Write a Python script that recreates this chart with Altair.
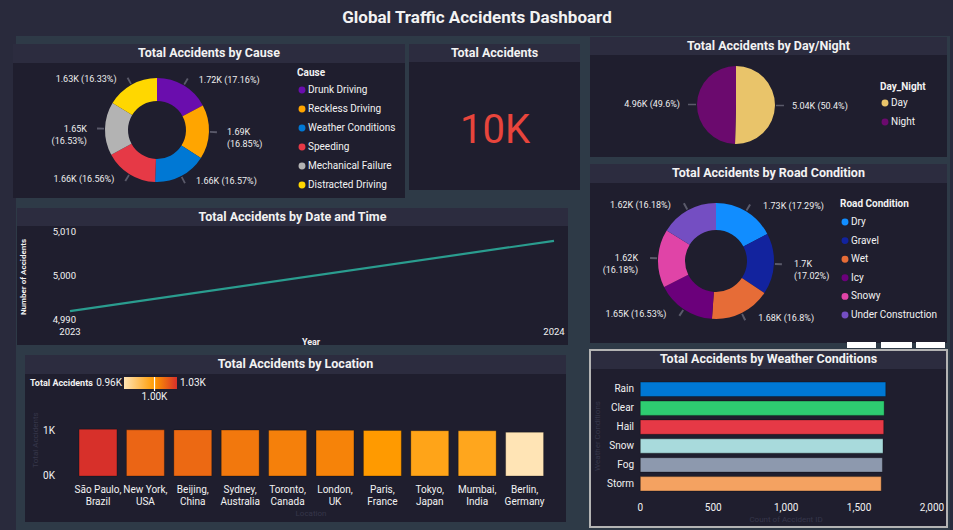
import math
import pandas as pd
import altair as alt

# ---------------- data ----------------
CAUSES = ["Drunk Driving", "Reckless Driving", "Weather Conditions",
          "Speeding", "Mechanical Failure", "Distracted Driving"]
CAUSE_COUNTS = [1716, 1685, 1657, 1656, 1653, 1633]
CAUSE_COLORS = ["#6A0DAD", "#FFA500", "#0078D4", "#E63946", "#B3B3B3", "#FFD700"]

DAY_NIGHT = ["Day", "Night"]
DAY_NIGHT_COUNTS = [5040, 4960]
DAY_NIGHT_COLORS = ["#E9C46A", "#6B0A6E"]

ROADS = ["Dry", "Gravel", "Wet", "Icy", "Snowy", "Under Construction"]
ROAD_COUNTS = [1729, 1702, 1680, 1653, 1618, 1618]
ROAD_COLORS = ["#118DFF", "#12239E", "#E66C37", "#6B007B", "#E044A7", "#744EC2"]

YEARS = [2023, 2024]
YEAR_COUNTS = [4992, 5008]
YEAR_TICKS = [4990, 5000, 5010]

LOCATIONS = ["São Paulo, Brazil", "New York, USA", "Beijing, China", "Sydney, Australia",
             "Toronto, Canada", "London, UK", "Paris, France", "Tokyo, Japan",
             "Mumbai, India", "Berlin, Germany"]
LOCATION_COUNTS = [1028, 1014, 1013, 1009, 1007, 1006, 1000, 995, 994, 962]
LOCATION_MID = 1000
LOCATION_TICKS = [0, 1000]
LOCATION_RAMP = ["#FFE4B5", "#FF9A00", "#D7302A"]

WEATHER = ["Rain", "Clear", "Hail", "Snow", "Fog", "Storm"]
WEATHER_COUNTS = [1683, 1672, 1669, 1664, 1660, 1652]
WEATHER_COLORS = ["#0078D4", "#2ECC71", "#E63946", "#A8DADC", "#8D99AE", "#F4A261"]
WEATHER_TICKS = [0, 500, 1000, 1500, 2000]

# ---------------- style ----------------
PAGE_BG = "#292A3C"
SLATE = "#2E3A47"
PANEL_BODY = "#1F1E2E"
PANEL_HEAD = "#2C2C3F"
TEXT = "#F2F2F2"
FAINT = "#36364A"
NARROW = "Liberation Sans Narrow, Arial Narrow, Roboto, sans-serif"
BODY = "Roboto, sans-serif"

ONE = pd.DataFrame({"_": [0]})


def short_k(v):
    return f"{v / 1000:.2f}".rstrip("0").rstrip(".") + "K"


def pct(v, total):
    return f"{v / total * 100:.2f}".rstrip("0").rstrip(".") + "%"


def box(x0, y0, x1, y1, color, **kw):
    return alt.Chart(ONE).mark_rect(color=color, **kw).encode(
        x=alt.value(x0), x2=alt.value(x1), y=alt.value(y0), y2=alt.value(y1))


def note(text, x, y, size=10, weight="normal", color=TEXT, align="center",
         font=BODY, angle=0, opacity=1.0, baseline="middle"):
    return alt.Chart(ONE).mark_text(
        text=text, fontSize=size, fontWeight=weight, color=color, align=align,
        baseline=baseline, font=font, angle=angle, opacity=opacity
    ).encode(x=alt.value(x), y=alt.value(y))


def panel(x0, y0, x1, y1, head_h, title, title_y, **kw):
    inset = 1 if kw else 0
    return [
        box(x0, y0, x1, y1, PANEL_BODY, **kw),
        box(x0 + inset, y0 + inset, x1 - inset, y0 + head_h, PANEL_HEAD),
        note(title, (x0 + x1) / 2, title_y, size=12.5, weight="bold", font=NARROW),
    ]


def pie_frame(cats, counts, wrap):
    total = sum(counts)
    rows, cum = [], 0
    for i, (c, v) in enumerate(zip(cats, counts)):
        mid = (cum + v / 2) / total
        cum += v
        sep = "\n" if wrap and abs(math.sin(2 * math.pi * mid)) > 0.95 else " "
        rows.append({"idx": i, "cat": c, "count": v, "mid": mid,
                     "lo": mid - 0.0025, "hi": mid + 0.0025,
                     "side": "R" if mid < 0.5 else "L",
                     "label": f"{short_k(v)}{sep}({pct(v, total)})"})
    return pd.DataFrame(rows)


def donut(cats, counts, colors, cx, cy, r_in, r_out, r_lab, gap, wrap, size=9):
    df = pie_frame(cats, counts, wrap)
    base = alt.Chart(df).encode(
        theta=alt.Theta("count:Q", stack=True),
        order=alt.Order("idx:Q"),
        x=alt.value(cx), y=alt.value(cy))
    arcs = base.mark_arc(innerRadius=r_in, outerRadius=r_out).encode(
        color=alt.Color("cat:N", scale=alt.Scale(domain=cats, range=colors), legend=None))
    text_kw = dict(radius=r_lab, baseline="middle", lineBreak="\n", lineHeight=12,
                   fontSize=size, color="#EDEDED", font=BODY)
    right = base.mark_text(align="left", dx=gap, **text_kw).encode(
        text=alt.condition("datum.side == 'R'", alt.Text("label:N"), alt.value("")),
        detail="cat:N")
    left = base.mark_text(align="right", dx=-gap, **text_kw).encode(
        text=alt.condition("datum.side == 'L'", alt.Text("label:N"), alt.value("")),
        detail="cat:N")
    leaders = alt.Chart(df).mark_arc(
        innerRadius=r_out + 1, outerRadius=r_lab + 2, color="#5A5A6A"
    ).encode(
        theta=alt.Theta("lo:Q", scale=alt.Scale(domain=[0, 1], range=[0, 2 * math.pi])),
        theta2="hi:Q", x=alt.value(cx), y=alt.value(cy))
    return [leaders, alt.layer(arcs, right, left)]


def legend(cats, colors, x, y0, y1, title, title_y):
    df = pd.DataFrame({"cat": cats})
    ys = alt.Y("cat:N", scale=alt.Scale(type="point", domain=cats, range=[y0, y1], padding=0), axis=None)
    dots = alt.Chart(df).mark_point(filled=True, size=48, opacity=1).encode(
        x=alt.value(x), y=ys,
        color=alt.Color("cat:N", scale=alt.Scale(domain=cats, range=colors), legend=None))
    names = alt.Chart(df).mark_text(align="left", dx=6, fontSize=10, color=TEXT, font=BODY).encode(
        x=alt.value(x), y=ys, text="cat:N")
    head = note(title, x - 5, title_y, size=10, weight="bold", align="left", font=BODY)
    return alt.layer(dots, names, head)


layers = []

# ---------------- page frame ----------------
layers.append(box(16, 36, 950, 530, SLATE))
layers.append(note("Global Traffic Accidents Dashboard", 477, 18, size=17, weight="bold", font=NARROW))

layers += panel(13, 44, 405, 198, 19, "Total Accidents by Cause", 53)
layers += panel(409, 44, 580, 190, 18, "Total Accidents", 53)
layers += panel(590, 37, 947, 157, 18, "Total Accidents by Day/Night", 46)
layers += panel(590, 164, 947, 343, 19, "Total Accidents by Road Condition", 173)
layers += panel(17, 208, 568, 345, 18, "Total Accidents by Date and Time", 217)
layers += panel(25, 355, 566, 522, 19, "Total Accidents by Location", 364)
layers += panel(590, 350, 947, 527, 19, "Total Accidents by Weather Conditions", 359,
                stroke="#B4B4B4", strokeWidth=2)
for bx0, bx1 in [(847, 876), (881, 912), (916, 945)]:
    layers.append(box(bx0, 342, bx1, 348, "#FFFFFF"))

# ---------------- cause donut ----------------
layers += donut(CAUSES, CAUSE_COUNTS, CAUSE_COLORS, 157, 130, 29, 52, 58, 12, True)
layers.append(legend(CAUSES, CAUSE_COLORS, 302, 90, 185, "Cause", 73))

# ---------------- KPI card ----------------
TOTAL = sum(CAUSE_COUNTS)
layers.append(note(f"{TOTAL / 1000:.0f}K", 495, 131, size=40, color="#E8453C", font=BODY))

# ---------------- day / night pie ----------------
layers += donut(DAY_NIGHT, DAY_NIGHT_COUNTS, DAY_NIGHT_COLORS, 736, 105, 0, 39, 46, 10, False)
layers.append(legend(DAY_NIGHT, DAY_NIGHT_COLORS, 885, 103, 122, "Day_Night", 87))

# ---------------- road condition donut ----------------
layers += donut(ROADS, ROAD_COUNTS, ROAD_COLORS, 716, 261, 31, 58, 64, 14, True)
layers.append(legend(ROADS, ROAD_COLORS, 845, 222, 315, "Road Condition", 204))

# ---------------- accidents by year ----------------
year_df = pd.DataFrame({"year": YEARS, "count": YEAR_COUNTS})
ytick_df = pd.DataFrame({"count": YEAR_TICKS})
year_xscale = alt.Scale(domain=[YEARS[0], YEARS[-1]], range=[70, 554], nice=False, zero=False)
year_yscale = alt.Scale(domain=[YEAR_TICKS[0], YEAR_TICKS[-1]], range=[320, 232], nice=False, zero=False)
yx = alt.X("year:Q", scale=year_xscale, axis=None)
yy = alt.Y("count:Q", scale=year_yscale, axis=None)
year_line = alt.Chart(year_df).mark_line(color="#2A9D8F", strokeWidth=2.2).encode(x=yx, y=yy)
year_lbl = alt.Chart(year_df).mark_text(fontSize=9.5, color=TEXT, font=NARROW).encode(
    x=yx, y=alt.value(331.5), text=alt.Text("year:Q", format="d"))
ytick_lbl = alt.Chart(ytick_df).mark_text(align="right", fontSize=9.5, color=TEXT, font=NARROW).encode(
    x=alt.value(76), y=yy, text=alt.Text("count:Q", format=","))
layers.append(alt.layer(year_line, year_lbl, ytick_lbl))
layers.append(note("Number of Accidents", 24, 277, size=8, weight="bold", angle=270, font=BODY))
layers.append(note("Year", 311, 342, size=9, weight="bold", font=BODY))

# ---------------- accidents by location ----------------
loc_df = pd.DataFrame({"loc": LOCATIONS, "count": LOCATION_COUNTS,
                       "label": [s.replace(", ", ",\n") for s in LOCATIONS]})
lo, hi = min(LOCATION_COUNTS), max(LOCATION_COUNTS)
loc_color = alt.Color("count:Q", legend=None,
                      scale=alt.Scale(domain=[lo, LOCATION_MID, hi], range=LOCATION_RAMP, interpolate="rgb"))
lx = alt.X("loc:N", scale=alt.Scale(domain=LOCATIONS, range=[74.3, 548.3], paddingInner=0.2, paddingOuter=0.1),
           axis=None)
ly = alt.Y("count:Q", scale=alt.Scale(domain=[0, 1000], range=[476, 430.5], nice=False, zero=False), axis=None)
loc_bars = alt.Chart(loc_df).mark_bar(stroke="#000000", strokeOpacity=0.25, strokeWidth=1).encode(
    x=lx, y=ly, color=loc_color)
loc_names = alt.Chart(loc_df).mark_text(baseline="top", lineBreak="\n", lineHeight=12, fontSize=10,
                                        color=TEXT, font=NARROW).encode(x=lx, y=alt.value(485), text="label:N")
ltick_df = pd.DataFrame({"count": LOCATION_TICKS, "txt": [f"{t // 1000}K" for t in LOCATION_TICKS]})
loc_ticks = alt.Chart(ltick_df).mark_text(fontSize=10, color=TEXT, font=NARROW).encode(
    x=alt.value(49), y=ly, text="txt:N")
layers.append(alt.layer(loc_bars, loc_names, loc_ticks))
layers.append(note("Total Accidents", 36, 440, size=8, color=FAINT, angle=270))
layers.append(note("Location", 311, 514, size=8, color=FAINT))

# gradient legend for the location colours
mid_off = (LOCATION_MID - lo) / (hi - lo)
ramp = alt.LinearGradient(gradient="linear", x1=0, x2=1, y1=0, y2=0, stops=[
    alt.GradientStop(color=LOCATION_RAMP[0], offset=0),
    alt.GradientStop(color=LOCATION_RAMP[1], offset=mid_off),
    alt.GradientStop(color=LOCATION_RAMP[2], offset=1)])
layers.append(alt.Chart(ONE).mark_rect(color=ramp).encode(
    x=alt.value(124), x2=alt.value(177), y=alt.value(377), y2=alt.value(389)))
layers.append(note("Total Accidents", 30, 383, size=9, weight="bold", align="left", font=NARROW))
layers.append(note(f"{lo / 1000:.2f}K", 122, 383, size=10, align="right", font=NARROW))
layers.append(note(f"{hi / 1000:.2f}K", 180, 383, size=10, align="left", font=NARROW))
mid_df = pd.DataFrame({"v": [LOCATION_MID], "txt": [f"{LOCATION_MID / 1000:.2f}K"]})
gx = alt.X("v:Q", scale=alt.Scale(domain=[lo, hi], range=[124, 177], nice=False, zero=False), axis=None)
layers.append(alt.layer(
    alt.Chart(mid_df).mark_rule(color="#FFFFFF", strokeWidth=1.2).encode(x=gx, y=alt.value(377), y2=alt.value(391)),
    alt.Chart(mid_df).mark_text(fontSize=10, color=TEXT, font=NARROW).encode(x=gx, y=alt.value(397), text="txt:N"),
))

# ---------------- accidents by weather ----------------
w_df = pd.DataFrame({"cond": WEATHER, "count": WEATHER_COUNTS})
wx = alt.X("count:Q", scale=alt.Scale(domain=[WEATHER_TICKS[0], WEATHER_TICKS[-1]], range=[640.3, 932],
                                      nice=False, zero=False), axis=None)
wy = alt.Y("cond:N", scale=alt.Scale(domain=WEATHER, range=[379.85, 493.25], paddingInner=0.24, paddingOuter=0.12),
           axis=None)
w_bars = alt.Chart(w_df).mark_bar(stroke="#000000", strokeOpacity=0.3, strokeWidth=1).encode(
    x=wx, y=wy, color=alt.Color("cond:N", scale=alt.Scale(domain=WEATHER, range=WEATHER_COLORS), legend=None))
w_names = alt.Chart(w_df).mark_text(align="right", fontSize=10, color=TEXT, font=NARROW).encode(
    x=alt.value(634), y=wy, text="cond:N")
wtick_df = pd.DataFrame({"count": WEATHER_TICKS})
w_ticks = alt.Chart(wtick_df).mark_text(fontSize=10, color=TEXT, font=NARROW).encode(
    x=wx, y=alt.value(508), text=alt.Text("count:Q", format=","))
layers.append(alt.layer(w_bars, w_names, w_ticks))
layers.append(note("Weather Conditions", 598, 436, size=8, color=FAINT, angle=270))
layers.append(note("Count of Accident ID", 786, 520, size=8, color=FAINT))

chart = alt.layer(*layers).properties(
    width=953, height=530, background=PAGE_BG, padding=0, autosize="none"
).resolve_scale(
    x="independent", y="independent", color="independent", theta="independent", radius="independent"
).configure_view(strokeWidth=0)

chart.save("out.html", embed_options={"renderer": "svg", "actions": False})
